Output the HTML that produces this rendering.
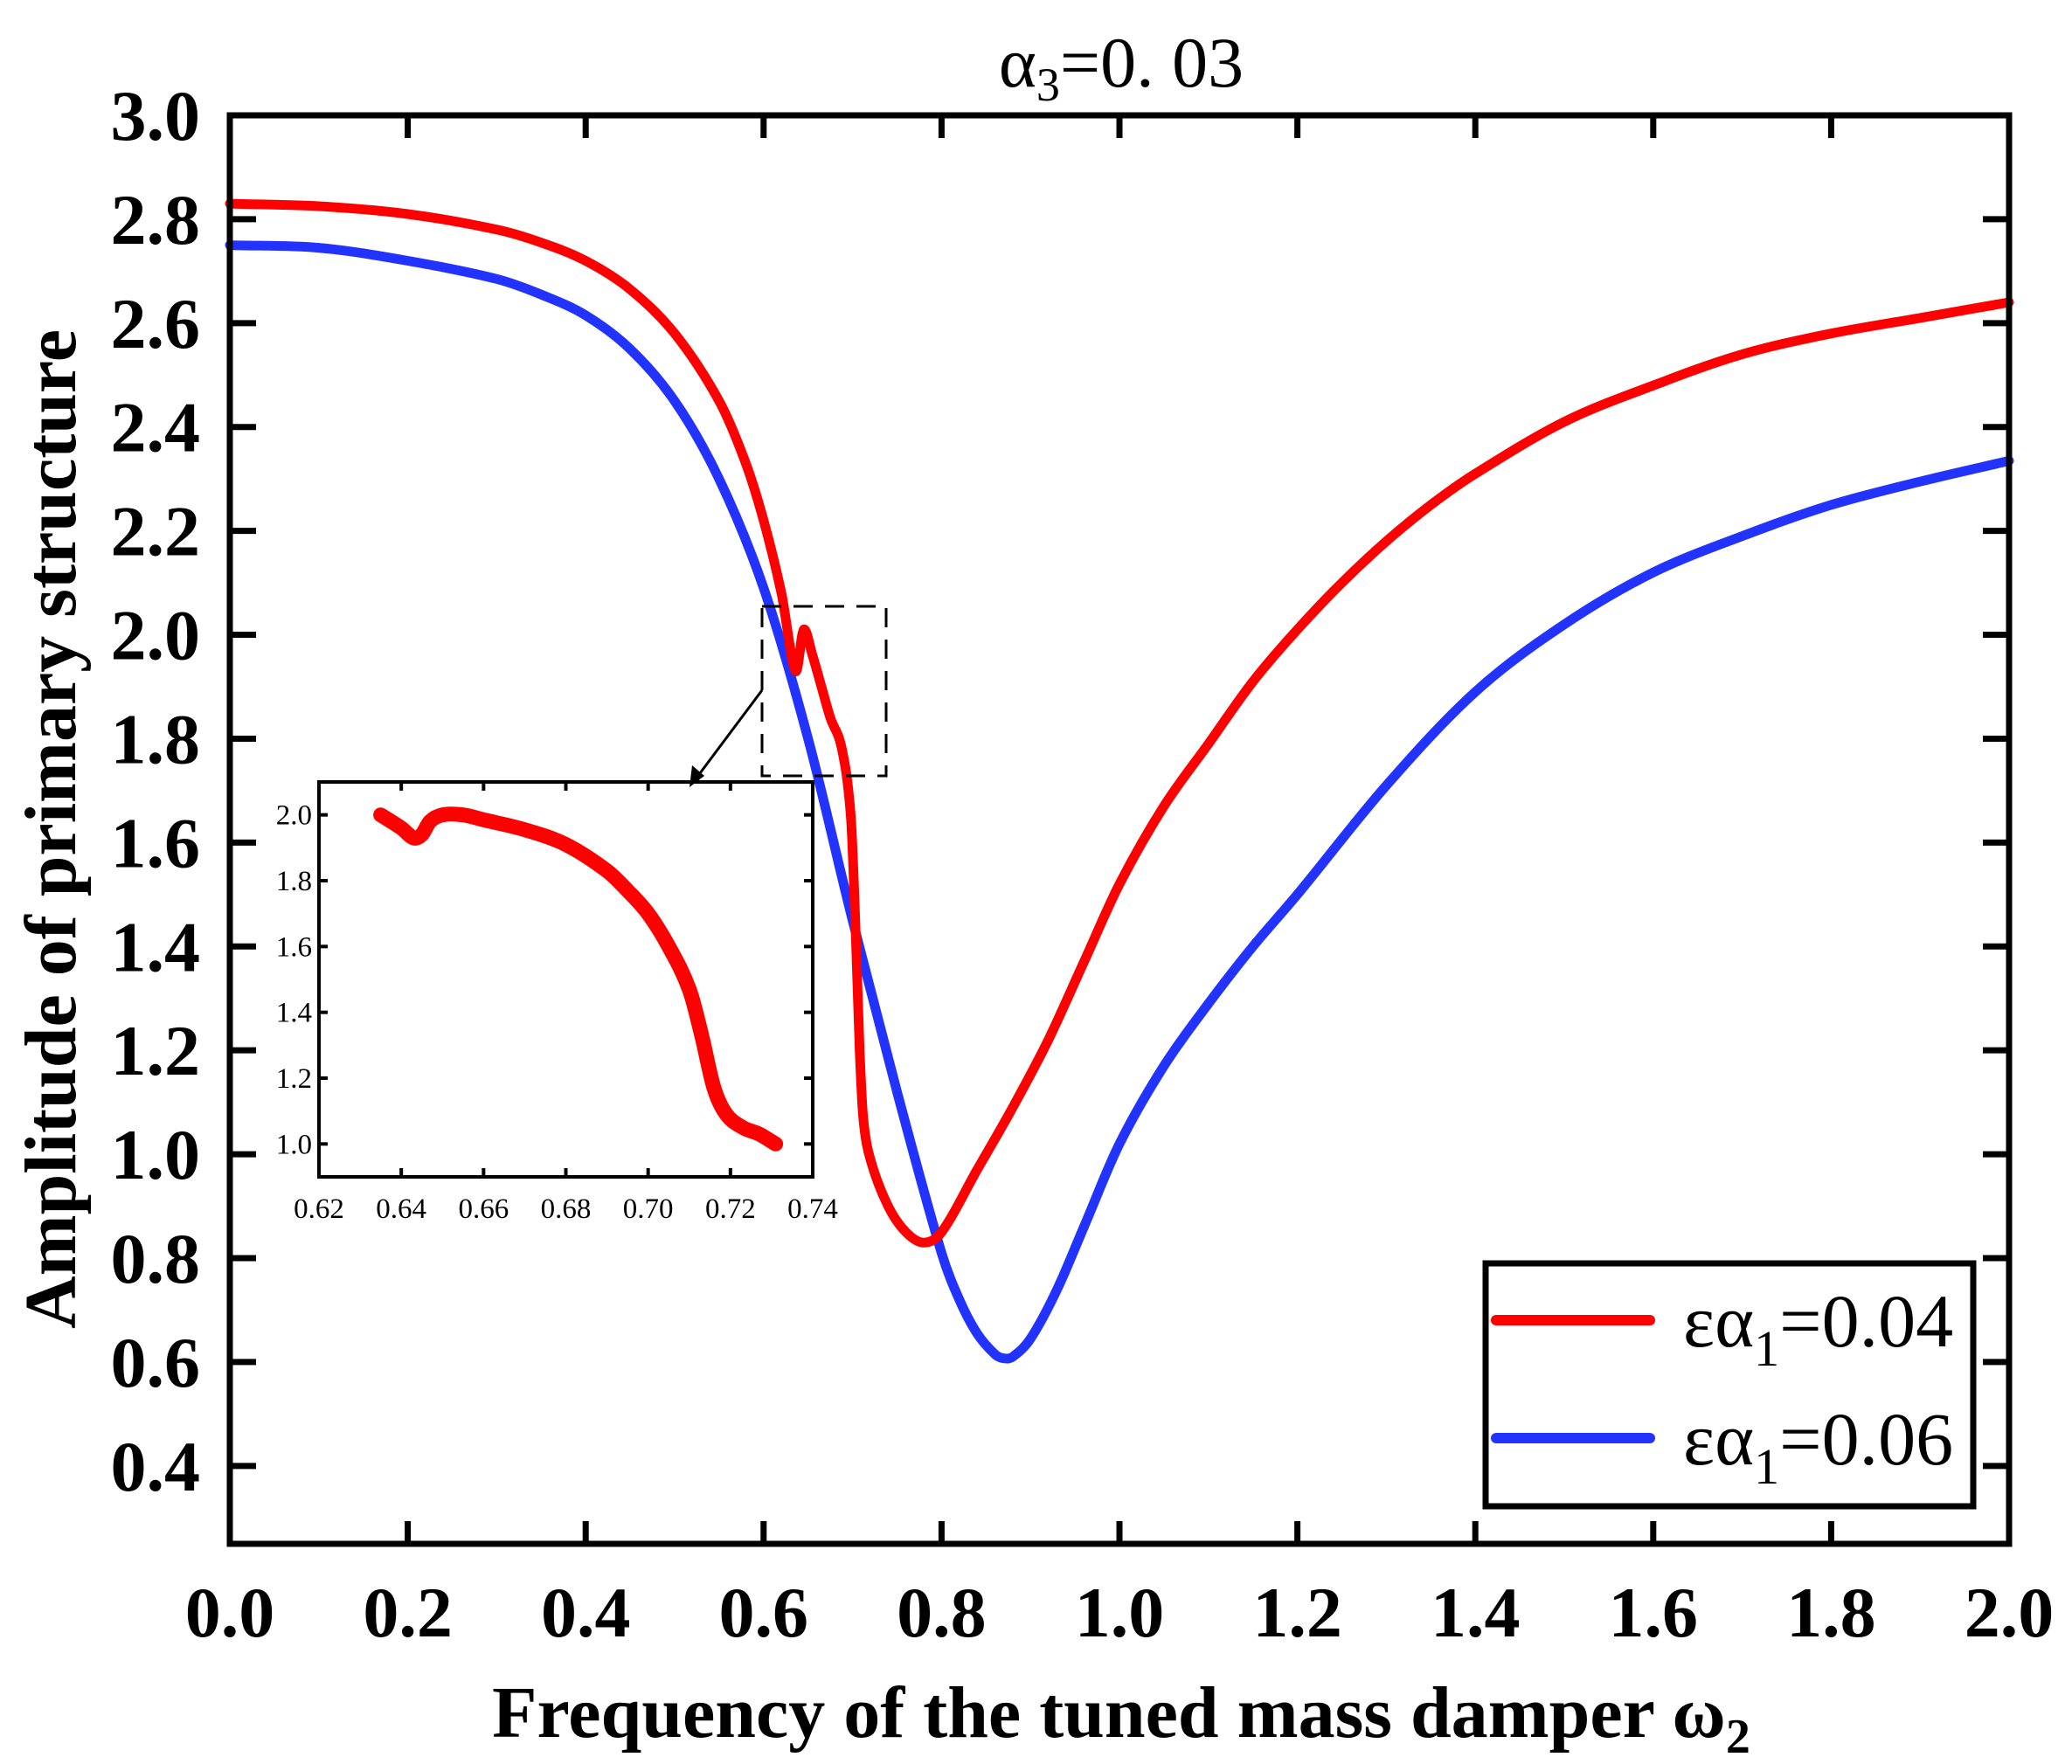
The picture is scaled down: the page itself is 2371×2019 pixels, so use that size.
<!DOCTYPE html>
<html><head><meta charset="utf-8"><style>
html,body{margin:0;padding:0;background:#fff;}
svg{display:block;font-family:"Liberation Serif",serif;}
</style></head><body>
<svg id="chart" width="2371" height="2019" viewBox="0 0 2371 2019" xmlns="http://www.w3.org/2000/svg">
<g id="main-plot"></g>
<g id="inset-plot"></g>
<text x="1283" y="99" font-size="82" text-anchor="middle">α<tspan font-size="54" dy="16">3</tspan><tspan dy="-16">=0. 03</tspan></text>
<text x="1283" y="1988" font-size="84" font-weight="bold" text-anchor="middle">Frequency of the tuned mass damper ω<tspan font-size="56" dy="18">2</tspan></text>
<text transform="translate(86,949) rotate(-90)" font-size="84" font-weight="bold" text-anchor="middle">Amplitude of primary structure</text>
<g>
<rect x="872" y="694" width="142" height="194" fill="none" stroke="#000" stroke-width="3" stroke-dasharray="22,14"/>
<line x1="872" y1="790" x2="795" y2="893" stroke="#000" stroke-width="3"/>
<polygon points="789,901 792,876 806,888" fill="#000"/>
</g>
<g>
<rect x="1700" y="1446" width="558" height="278" fill="#fff" stroke="#000" stroke-width="7"/>
<line x1="1712" y1="1511" x2="1888" y2="1511" stroke="#ff0000" stroke-width="12" stroke-linecap="round"/>
<line x1="1712" y1="1646" x2="1888" y2="1646" stroke="#2233ff" stroke-width="12" stroke-linecap="round"/>
<text x="1926" y="1541" font-size="86">εα<tspan font-size="58" dy="22">1</tspan><tspan dy="-22">=0.04</tspan></text>
<text x="1926" y="1676" font-size="86">εα<tspan font-size="58" dy="22">1</tspan><tspan dy="-22">=0.06</tspan></text>
</g>
</svg>
<script>
const xTicks = [0.0,0.2,0.4,0.6,0.8,1.0,1.2,1.4,1.6,1.8,2.0];
const yTicks = [0.4,0.6,0.8,1.0,1.2,1.4,1.6,1.8,2.0,2.2,2.4,2.6,2.8,3.0];
const redX = [0,0.1,0.2,0.3,0.35,0.4,0.45,0.5,0.55,0.58,0.6,0.62,0.636,0.645,0.655,0.665,0.675,0.688,0.698,0.703,0.708,0.712,0.72,0.74,0.76,0.78,0.8,0.84,0.88,0.92,0.96,1.0,1.05,1.1,1.15,1.2,1.25,1.3,1.35,1.4,1.5,1.6,1.7,1.8,1.9,2.0];
const redY = [2.83,2.825,2.81,2.78,2.755,2.72,2.665,2.58,2.45,2.33,2.22,2.08,1.93,2.01,1.96,1.9,1.84,1.78,1.65,1.45,1.2,1.07,0.99,0.9,0.85,0.83,0.85,0.97,1.09,1.22,1.37,1.52,1.67,1.79,1.91,2.01,2.1,2.18,2.25,2.31,2.41,2.48,2.54,2.58,2.61,2.64];
const blueX = [0,0.1,0.2,0.3,0.35,0.4,0.45,0.5,0.55,0.6,0.65,0.7,0.75,0.8,0.82,0.84,0.86,0.87,0.88,0.9,0.93,0.96,1.0,1.05,1.1,1.15,1.2,1.3,1.4,1.5,1.6,1.7,1.8,1.9,2.0];
const blueY = [2.75,2.745,2.72,2.685,2.655,2.615,2.55,2.45,2.3,2.09,1.8,1.45,1.12,0.81,0.72,0.655,0.615,0.607,0.61,0.645,0.74,0.86,1.02,1.17,1.29,1.4,1.5,1.71,1.89,2.02,2.12,2.19,2.25,2.295,2.335];
const insetXTicks = [0.62,0.64,0.66,0.68,0.70,0.72,0.74];
const insetYTicks = [1.0,1.2,1.4,1.6,1.8,2.0];
const insetX = [0.635,0.640,0.643,0.645,0.647,0.650,0.655,0.66,0.67,0.68,0.69,0.695,0.70,0.705,0.71,0.713,0.716,0.719,0.723,0.727,0.731];
const insetY = [2.0,1.96,1.93,1.94,1.98,2.0,2.0,1.985,1.955,1.91,1.83,1.77,1.70,1.60,1.47,1.33,1.17,1.09,1.05,1.03,1.00];

const NS='http://www.w3.org/2000/svg';
function mk(tag, attrs, parent){const e=document.createElementNS(NS,tag);for(const k in attrs)e.setAttribute(k,attrs[k]);parent.appendChild(e);return e;}
function smoothPath(pts){
  const n=pts.length, m=[];
  for(let i=0;i<n;i++){
    const a=pts[Math.max(0,i-1)], b=pts[Math.min(n-1,i+1)];
    m.push((b[1]-a[1])/(b[0]-a[0]));
  }
  let d='M'+pts[0][0].toFixed(1)+','+pts[0][1].toFixed(1);
  for(let i=0;i<n-1;i++){
    const p1=pts[i],p2=pts[i+1],h=(p2[0]-p1[0])/3;
    d+=' C'+(p1[0]+h).toFixed(1)+','+(p1[1]+m[i]*h).toFixed(1)+' '+(p2[0]-h).toFixed(1)+','+(p2[1]-m[i+1]*h).toFixed(1)+' '+p2[0].toFixed(1)+','+p2[1].toFixed(1);
  }
  return d;
}
const L=263,R=2299,T=132,B=1767,xmin=0,xmax=2,ymin=0.25,ymax=3.0;
const sx=v=>L+(v-xmin)/(xmax-xmin)*(R-L);
const sy=v=>B-(v-ymin)/(ymax-ymin)*(B-T);
const main=document.getElementById('main-plot');
function series(xs,ys,color,name,w,fx,fy,parent){
  const p=mk('path',{d:smoothPath(xs.map((x,i)=>[fx(x),fy(ys[i])])),fill:'none',stroke:color,'stroke-width':w,'stroke-linecap':'round','stroke-linejoin':'round'},parent);
  
  
}
series(blueX,blueY,'#2233ff','series-eps-alpha1-006',11,sx,sy,main);
series(redX,redY,'#ff0000','series-eps-alpha1-004',11,sx,sy,main);
xTicks.forEach(v=>{
  const x=sx(v);
  mk('line',{x1:x,y1:B,x2:x,y2:B-26,stroke:'#000','stroke-width':7},main);
  mk('line',{x1:x,y1:T,x2:x,y2:T+26,stroke:'#000','stroke-width':7},main);
  const t=mk('text',{x:x,y:1873,'font-size':82,'font-weight':'bold','text-anchor':'middle'},main);
  t.textContent=v.toFixed(1);
  
  
});
yTicks.forEach(v=>{
  const y=sy(v);
  mk('line',{x1:L,y1:y,x2:L+30,y2:y,stroke:'#000','stroke-width':7},main);
  mk('line',{x1:R,y1:y,x2:R-30,y2:y,stroke:'#000','stroke-width':7},main);
  const t=mk('text',{x:229,y:y+28,'font-size':82,'font-weight':'bold','text-anchor':'end'},main);
  t.textContent=v.toFixed(1);
  
  
});
const frame=mk('rect',{x:L,y:T,width:R-L,height:B-T,fill:'none',stroke:'#000','stroke-width':7},main);



const iL=365,iR=930,iT=895,iB=1347,ixmin=0.62,ixmax=0.74,iymin=0.90,iymax=2.10;
const isx=v=>iL+(v-ixmin)/(ixmax-ixmin)*(iR-iL);
const isy=v=>iB-(v-iymin)/(iymax-iymin)*(iB-iT);
const inset=document.getElementById('inset-plot');
mk('rect',{x:iL,y:iT,width:iR-iL,height:iB-iT,fill:'#fff'},inset);
series(insetX,insetY,'#ff0000','inset-series-red',17,isx,isy,inset);
insetXTicks.forEach(v=>{
  const x=isx(v);
  if(v>ixmin&&v<ixmax){
    mk('line',{x1:x,y1:iB,x2:x,y2:iB-10,stroke:'#000','stroke-width':4},inset);
    mk('line',{x1:x,y1:iT,x2:x,y2:iT+10,stroke:'#000','stroke-width':4},inset);
  }
  const t=mk('text',{x:x,y:iB+47,'font-size':33,'text-anchor':'middle'},inset);
  t.textContent=v.toFixed(2);
  
  
});
insetYTicks.forEach(v=>{
  const y=isy(v);
  mk('line',{x1:iL,y1:y,x2:iL+10,y2:y,stroke:'#000','stroke-width':4},inset);
  mk('line',{x1:iR,y1:y,x2:iR-10,y2:y,stroke:'#000','stroke-width':4},inset);
  const t=mk('text',{x:iL-8,y:y+11,'font-size':33,'text-anchor':'end'},inset);
  t.textContent=v.toFixed(1);
  
  
});
const iframe=mk('rect',{x:iL,y:iT,width:iR-iL,height:iB-iT,fill:'none',stroke:'#000','stroke-width':4},inset);


</script>
</body></html>
